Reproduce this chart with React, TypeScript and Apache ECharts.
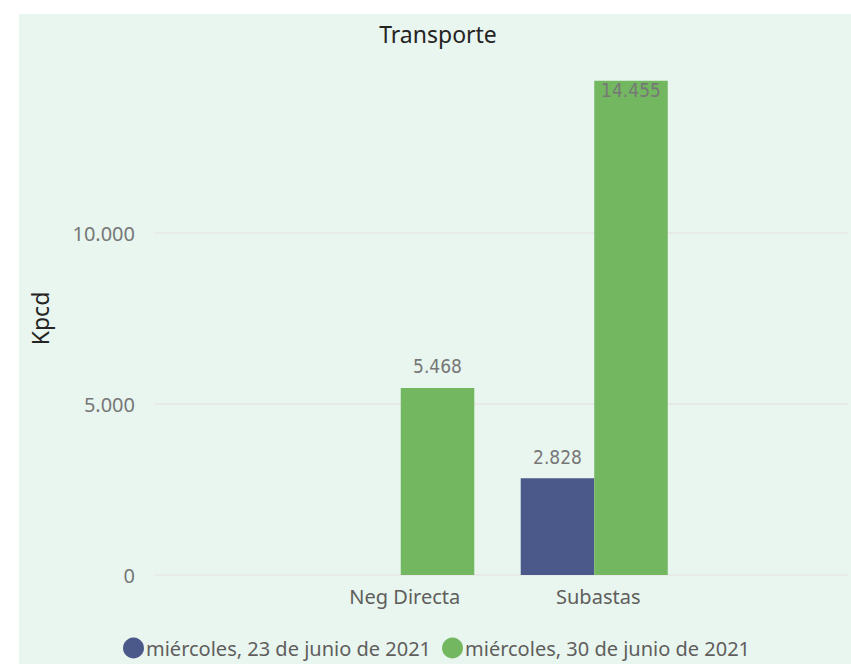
import React, { useEffect, useRef } from "react";
import * as echarts from "echarts";

const categories = ["Neg Directa", "Subastas"];
const seriesNames = ["miércoles, 23 de junio de 2021", "miércoles, 30 de junio de 2021"];
const values23 = [null, 2828];
const values30 = [5468, 14455];
const yTicks = [0, 5000, 10000];
const colors = ["#4a588a", "#73b761"];

const fmt = (v: number) => String(Math.round(v)).replace(/\B(?=(\d{3})+(?!\d))/g, ".");

export default function App() {
  const ref = useRef<HTMLDivElement>(null);
  useEffect(() => {
    document.body.style.margin = "0";
    const chart = echarts.init(ref.current!, undefined, { renderer: "svg" });
    const font = "'Noto Sans', 'Open Sans', sans-serif";
    const labelFont = "'DejaVu Sans Condensed', 'Roboto', sans-serif";
    chart.setOption({
      animation: false,
      backgroundColor: "#ffffff",
      graphic: [
        {
          type: "rect",
          z: -10,
          silent: true,
          shape: { x: 19, y: 14, width: 851 - 19, height: 664 - 14 },
          style: { fill: "#e8f6ef" },
        },
        {
          type: "text",
          x: 438,
          y: 34,
          style: {
            text: "Transporte",
            fontSize: 23,
            fontFamily: font,
            fill: "#252423",
            align: "center",
            verticalAlign: "middle",
          },
        },
      ],
      legend: {
        left: 118,
        top: 632,
        icon: "circle",
        itemWidth: 21,
        itemHeight: 21,
        itemGap: 11,
        data: seriesNames,
        textStyle: { fontSize: 20, lineHeight: 22, color: "#605e5c", fontFamily: font, padding: [0, 0, 0, -3] },
      },
      grid: [
        { left: 155, right: 3, top: 62, bottom: 89 },
        { left: 304, right: 160, top: 62, bottom: 89 },
      ],
      xAxis: [
        { type: "category", gridIndex: 0, data: [""], show: false },
        {
          type: "category",
          gridIndex: 1,
          data: categories,
          axisLine: { show: false },
          axisTick: { show: false },
          axisLabel: { fontSize: 20, color: "#605e5c", fontFamily: font, margin: 11, padding: [0, 0, 0, 8] },
        },
      ],
      yAxis: [
        {
          type: "value",
          gridIndex: 0,
          min: 0,
          max: 15000,
          interval: 5000,
          name: "Kpcd",
          nameLocation: "middle",
          nameRotate: 90,
          nameGap: 104,
          nameTextStyle: { fontSize: 23, color: "#252423", fontFamily: font },
          axisLine: { show: false },
          axisTick: { show: false },
          axisLabel: {
            fontSize: 20,
            color: "#777777",
            fontFamily: font,
            margin: 20,
            formatter: (v: number) => (yTicks.includes(v) ? fmt(v) : ""),
          },
          splitLine: {
            lineStyle: { color: ["#e6e6e6", "#e6e6e6", "#e6e6e6", "rgba(0,0,0,0)"], width: 1.5 },
          },
        },
        {
          type: "value",
          gridIndex: 1,
          min: 0,
          max: 15000,
          interval: 5000,
          show: false,
          splitLine: { show: false },
        },
      ],
      series: [
        {
          name: seriesNames[0],
          type: "bar",
          xAxisIndex: 1,
          yAxisIndex: 1,
          data: values23,
          barGap: "0%",
          barCategoryGap: "24%",
          itemStyle: { color: colors[0] },
          label: {
            show: true,
            position: "top",
            distance: 12,
            fontSize: 19,
            color: "#777777",
            fontFamily: labelFont,
            formatter: (p: any) => fmt(p.value),
          },
        },
        {
          name: seriesNames[1],
          type: "bar",
          xAxisIndex: 1,
          yAxisIndex: 1,
          data: values30.map((v, i) =>
            i === 1
              ? { value: v, label: { position: "insideTop", distance: 0 } }
              : v
          ),
          barGap: "0%",
          barCategoryGap: "24%",
          itemStyle: { color: colors[1] },
          label: {
            show: true,
            position: "top",
            distance: 12,
            fontSize: 19,
            color: "#777777",
            fontFamily: labelFont,
            formatter: (p: any) => fmt(p.value),
          },
        },
      ],
    });
    return () => chart.dispose();
  }, []);
  return <div ref={ref} style={{ width: 851, height: 664 }} />;
}
